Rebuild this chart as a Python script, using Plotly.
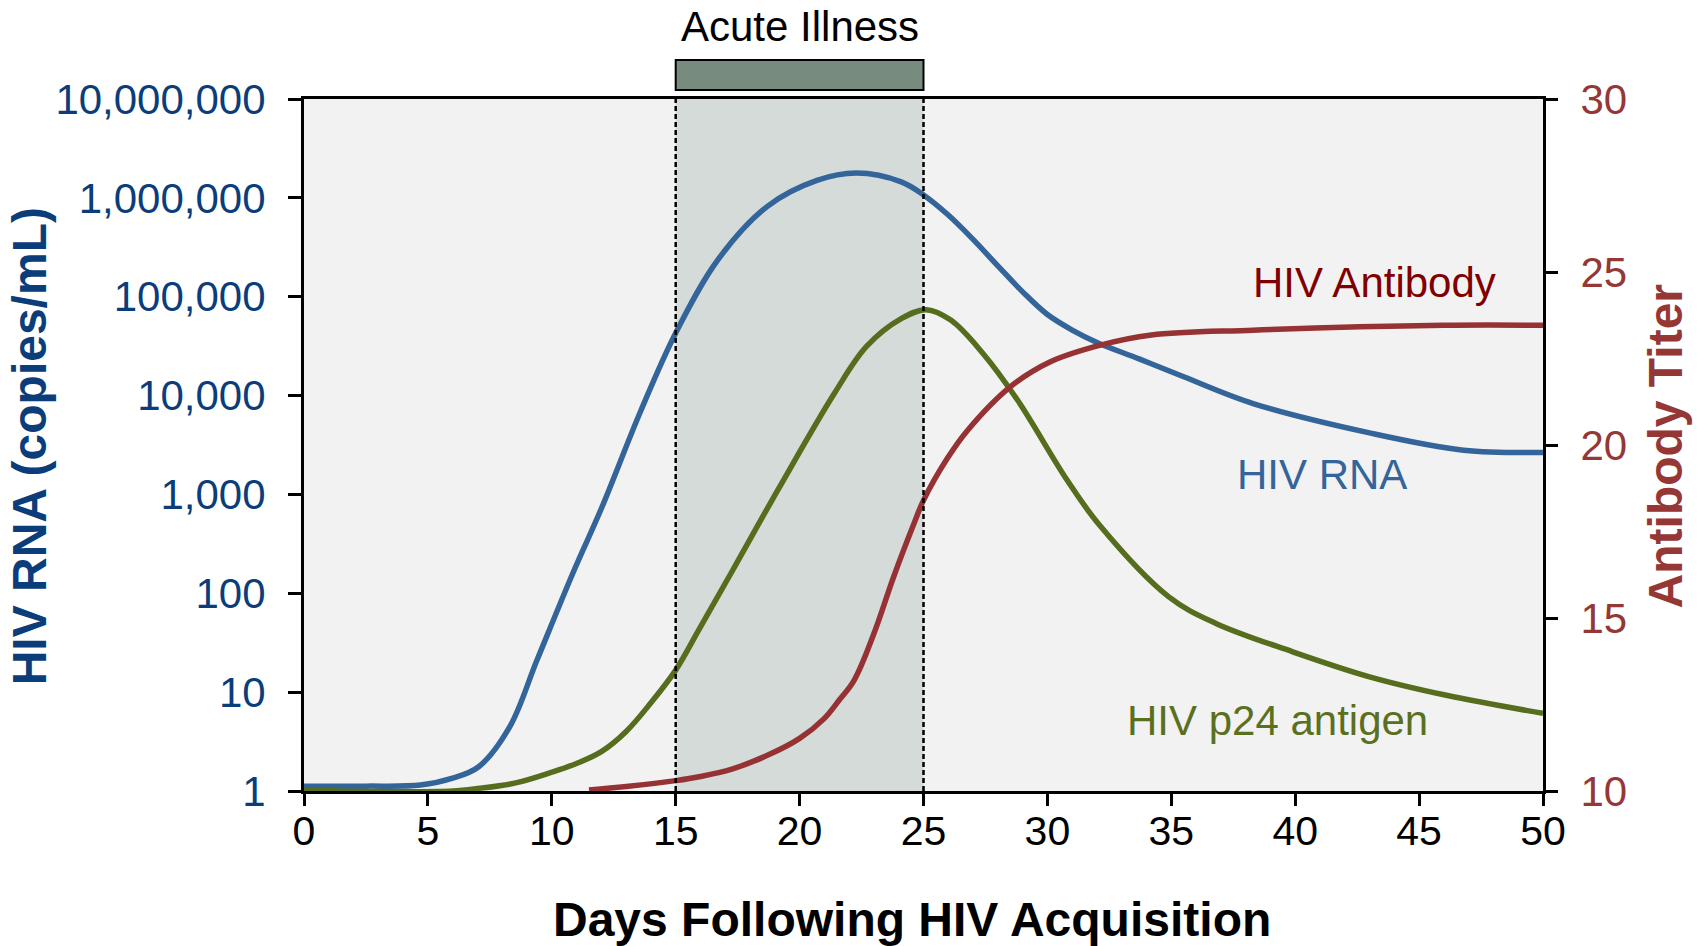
import plotly.graph_objects as go

# ---- data ----
days_rna = [0, 2.5, 4.7, 6, 7.05, 8.3, 9.4, 10.9, 12, 13.6, 15, 16.7, 18.7, 20.7, 22.3,
            24.1, 25, 26, 27, 28, 29, 30, 31, 32, 33.7, 35.5, 38.3, 43, 46.8, 50]
rna = [1.12, 1.12, 1.15, 1.35, 1.76, 4.45, 21, 171, 720, 7100, 43000, 236000, 820000,
       1500000, 1780000, 1450000, 1070000, 670000, 380000, 205000, 112000, 66000, 46000,
       34500, 23500, 15500, 8300, 4190, 2800, 2660]

days_p24 = [0, 2, 4, 6, 7, 8.5, 10, 11, 12, 13, 14, 15, 16, 17.3, 19.2, 21.4, 22.7,
            24.1, 25.1, 26.1, 27.4, 28.8, 30.8, 32.1, 34.9, 36.8, 39.9, 43, 46.1, 50]
p24 = [1.03, 0.995, 0.985, 1.0, 1.06, 1.2, 1.55, 1.9, 2.5, 4.0, 7.8, 16.7, 45.7, 171, 1200,
       10500, 31400, 60000, 74000, 58000, 26700, 8950, 1390, 490, 92, 49.6, 25.6, 14.3,
       9.3, 6.1]

days_ab = [11.5, 13, 15, 16, 17.3, 18.7, 20, 21, 21.6, 22.2, 23, 23.8, 24.6, 25, 25.95,
           26.75, 28.5, 30.1, 32.1, 34.2, 38.3, 46, 50]
antibody = [10.03, 10.13, 10.3, 10.42, 10.64, 11.03, 11.52, 12.1, 12.63, 13.2, 14.55,
            16.2, 17.7, 18.4, 19.6, 20.4, 21.68, 22.4, 22.88, 23.18, 23.32, 23.46, 23.46]

x_ticks = [0, 5, 10, 15, 20, 25, 30, 35, 40, 45, 50]
rna_ticks = [1, 10, 100, 1000, 10000, 100000, 1000000, 10000000]
rna_tick_text = ["1", "10", "100", "1,000", "10,000", "100,000", "1,000,000", "10,000,000"]
ab_ticks = [10, 15, 20, 25, 30]
acute_start, acute_end = 15, 25

# ---- styles ----
FONT = "Liberation Sans, Arial, sans-serif"
BLUE_LINE = "#34659a"
BLUE_TEXT = "#0b3d7a"
GREEN = "#566d1e"
RED_LINE = "#963234"
RED_TEXT = "#953735"
DARK_RED = "#800000"
LW = 5.5

fig = go.Figure()

fig.add_trace(go.Scatter(x=days_rna, y=rna, mode="lines",
                         line=dict(color=BLUE_LINE, width=LW, shape="spline", smoothing=1.0),
                         yaxis="y", hoverinfo="skip", name="HIV RNA"))
fig.add_trace(go.Scatter(x=days_p24, y=p24, mode="lines",
                         line=dict(color=GREEN, width=LW, shape="spline", smoothing=1.0),
                         yaxis="y", hoverinfo="skip", name="HIV p24 antigen"))
fig.add_trace(go.Scatter(x=days_ab, y=antibody, mode="lines",
                         line=dict(color=RED_LINE, width=LW, shape="spline", smoothing=1.0),
                         yaxis="y2", hoverinfo="skip", name="HIV Antibody"))

fig.update_layout(
    width=1701, height=946,
    margin=dict(l=304, r=158, t=99, b=155),
    paper_bgcolor="white",
    plot_bgcolor="#f2f2f2",
    showlegend=False,
    font=dict(family=FONT, size=42, color="black"),
    xaxis=dict(range=[0, 50], tickvals=x_ticks, showgrid=False, zeroline=False,
               showline=True, linecolor="black", linewidth=3, mirror=True,
               ticks="outside", ticklen=12, tickwidth=3, tickcolor="black",
               tickfont=dict(family=FONT, size=41, color="black"), ticklabelstandoff=-10),
    yaxis=dict(type="log", range=[0, 7], tickvals=rna_ticks, ticktext=rna_tick_text,
               showgrid=False, zeroline=False, showline=True, linecolor="black", linewidth=3,
               ticks="outside", ticklen=13, tickwidth=3, tickcolor="black",
               tickfont=dict(family=FONT, size=42, color=BLUE_TEXT), ticklabelstandoff=14),
    yaxis2=dict(range=[10, 30], tickvals=ab_ticks, overlaying="y", side="right",
                showgrid=False, zeroline=False, showline=True, linecolor="black", linewidth=3,
                ticks="outside", ticklen=12, tickwidth=3, tickcolor="black",
                tickfont=dict(family=FONT, size=42, color=RED_TEXT), ticklabelstandoff=14),
)

shapes = [
    dict(type="rect", xref="x", yref="paper", x0=acute_start, x1=acute_end, y0=0, y1=1,
         fillcolor="#d4dbd8", line=dict(width=0), layer="below"),
    dict(type="line", xref="x", yref="paper", x0=acute_start, x1=acute_start, y0=0, y1=1,
         line=dict(color="black", width=2.5, dash="5px,3px"), layer="above"),
    dict(type="line", xref="x", yref="paper", x0=acute_end, x1=acute_end, y0=0, y1=1,
         line=dict(color="black", width=2.5, dash="5px,3px"), layer="above"),
    dict(type="rect", xref="x", yref="paper", x0=acute_start, x1=acute_end, y0=1.013, y1=1.0564,
         fillcolor="#778b7f", line=dict(color="black", width=2)),
]
fig.update_layout(shapes=shapes)

annotations = [
    dict(text="Acute Illness", xref="x", yref="paper", x=(acute_start + acute_end) / 2, y=1.105,
         showarrow=False, font=dict(family=FONT, size=42, color="black"), xanchor="center", yanchor="middle"),
    dict(text="HIV Antibody", xref="x", yref="y2", x=48.2, y=24.7, showarrow=False,
         font=dict(family=FONT, size=42, color=DARK_RED), xanchor="right", yanchor="middle"),
    dict(text="HIV RNA", xref="x", yref="y2", x=41.1, y=19.15, showarrow=False,
         font=dict(family=FONT, size=42, color=BLUE_LINE), xanchor="center", yanchor="middle"),
    dict(text="HIV p24 antigen", xref="x", yref="y2", x=39.27, y=12.04, showarrow=False,
         font=dict(family=FONT, size=42, color="#5a701f"), xanchor="center", yanchor="middle"),
    dict(text="<b>HIV RNA (copies/mL)</b>", xref="paper", yref="paper", x=-0.222, y=0.498,
         textangle=-90, showarrow=False, font=dict(family=FONT, size=48, color=BLUE_TEXT),
         xanchor="center", yanchor="middle"),
    dict(text="<b>Antibody Titer</b>", xref="paper", yref="paper", x=1.0985, y=0.498,
         textangle=-90, showarrow=False, font=dict(family=FONT, size=48, color=RED_TEXT),
         xanchor="center", yanchor="middle"),
    dict(text="<b>Days Following HIV Acquisition</b>", xref="paper", yref="paper", x=0.4907, y=-0.1864,
         showarrow=False, font=dict(family=FONT, size=48, color="black"),
         xanchor="center", yanchor="middle"),
]
fig.update_layout(annotations=annotations)

fig.write_html("out.html", config={"displayModeBar": False},
               post_script="document.body.style.margin='0';document.body.style.padding='0';"
                           "document.body.style.overflow='hidden';")
